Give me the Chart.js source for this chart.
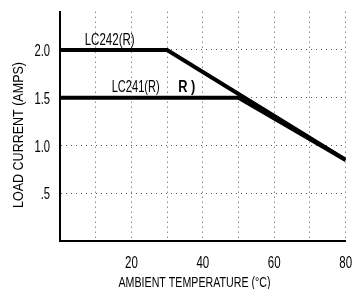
<!DOCTYPE html>
<html>
<head>
<meta charset="utf-8">
<script src="https://cdn.jsdelivr.net/npm/chart.js@4/dist/chart.umd.min.js"></script>
<style>
  html, body { margin: 0; padding: 0; background: #fff; }
  #wrap { width: 353px; height: 289px; position: relative; }
</style>
</head>
<body>
<div id="wrap"><canvas id="chart"></canvas></div>
<script>
// derating curves
const temps242 = [0, 30, 80];
const amps242 = [2.0, 2.0, 0.85];
const temps241 = [0, 50, 80];
const amps241 = [1.5, 1.5, 0.85];

// tick labels
const xTickValues = [20, 40, 60, 80];
const yTickValues = [0.5, 1.0, 1.5, 2.0];
const yTickText = [".5", "1.0", "1.5", "2.0"];

const FONT = "'Liberation Sans', Arial, sans-serif";

const toPoints = (xs, ys) => xs.map((x, i) => ({ x: x, y: ys[i] }));

// condensed look: squeeze Liberation Sans horizontally
function squeezeText(ctx, text, x, y, size, sx, align, width, weight) {
  ctx.save();
  ctx.font = (weight || "normal") + " " + size + "px " + FONT;
  if (width) sx = width / ctx.measureText(text).width;
  ctx.translate(x, y);
  ctx.scale(sx, 1);
  ctx.textAlign = align || "center";
  ctx.textBaseline = "alphabetic";
  ctx.fillText(text, 0, 0);
  ctx.restore();
}

// tick labels, curve names and axis titles, placed with the chart's scales
const labelPlugin = {
  id: "labels",
  afterDraw(chart) {
    const { ctx, scales, chartArea } = chart;
    const xs = scales.x, ys = scales.y;
    ctx.save();
    ctx.fillStyle = "#000";

    xTickValues.forEach((v) => {
      squeezeText(ctx, String(v), xs.getPixelForValue(v), chartArea.bottom + 27, 16, 0.72);
    });
    yTickValues.forEach((v, i) => {
      squeezeText(ctx, yTickText[i], 50, ys.getPixelForValue(v) + 6, 16, 0.7, "right");
    });

    squeezeText(ctx, "LC242(R)", xs.getPixelForValue(13.9), ys.getPixelForValue(2.0) - 5, 16, 0, "center", 50);
    squeezeText(ctx, "LC241(R)", xs.getPixelForValue(21.2), ys.getPixelForValue(1.5) - 6, 16, 0, "center", 48);
    squeezeText(ctx, "R )", xs.getPixelForValue(35.5), ys.getPixelForValue(1.5) - 6, 16, 0, "center", 17, "bold");

    squeezeText(ctx, "AMBIENT TEMPERATURE (°C)", 194.5, 287, 14, 0, "center", 152);

    ctx.translate(23, 135);
    ctx.rotate(-Math.PI / 2);
    squeezeText(ctx, "LOAD CURRENT (AMPS)", 0, 0, 14, 0, "center", 146);
    ctx.restore();
  }
};

const zeroPadding = (scale) => {
  scale.paddingLeft = 0;
  scale.paddingRight = 0;
  scale.paddingTop = 0;
  scale.paddingBottom = 0;
};

const ctx = document.getElementById("chart").getContext("2d");
new Chart(ctx, {
  type: "line",
  data: {
    datasets: [
      {
        label: "LC242(R)",
        data: toPoints(temps242, amps242),
        borderColor: "#000",
        borderWidth: 4,
        pointRadius: 0,
        tension: 0,
      },
      {
        label: "LC241(R)",
        data: toPoints(temps241, amps241),
        borderColor: "#000",
        borderWidth: 4,
        pointRadius: 0,
        tension: 0,
      },
    ],
  },
  options: {
    responsive: true,
    maintainAspectRatio: false,
    animation: false,
    layout: { padding: { top: 11.7, right: 7.3, left: 0, bottom: 0 } },
    plugins: {
      legend: { display: false },
      tooltip: { enabled: false },
    },
    scales: {
      x: {
        type: "linear",
        min: 0,
        max: 80,
        afterFit: (scale) => { scale.height = 47.7; zeroPadding(scale); },
        ticks: { stepSize: 10, display: false },
        grid: {
          drawTicks: false,
          lineWidth: 1,
          color: (c) => (c.tick && c.tick.value === 0 ? "rgba(0,0,0,0)" : "#555"),
        },
        border: { display: true, color: "#000", width: 2, dash: [1, 4] },
      },
      y: {
        min: 0,
        max: 2.4,
        afterFit: (scale) => { scale.width = 60; zeroPadding(scale); },
        ticks: { stepSize: 0.5, display: false },
        grid: {
          drawTicks: false,
          lineWidth: 1,
          color: (c) => {
            const v = c.tick ? c.tick.value : 0;
            return yTickValues.some((t) => Math.abs(t - v) < 1e-6) ? "#555" : "rgba(0,0,0,0)";
          },
        },
        border: { display: true, color: "#000", width: 2, dash: [1, 4] },
      },
    },
  },
  plugins: [labelPlugin],
});
</script>
</body>
</html>
